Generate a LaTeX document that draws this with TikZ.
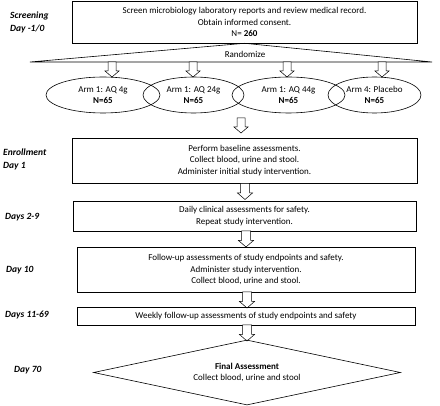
\documentclass[tikz,border=0pt]{standalone}
\usepackage{fontspec}
\setmainfont{Carlito}
\usetikzlibrary{shapes.geometric}
\tikzset{
  every node/.style={font=\fontsize{9}{11.5}\selectfont},
  stepbox/.style={draw, line width=0.6pt, align=center, inner sep=0pt},
  armell/.style={draw, ellipse, line width=0.6pt, align=center, inner sep=0pt, minimum height=36pt},
  daylabel/.style={anchor=west, align=left, inner sep=0pt, font=\fontsize{9.5}{13}\selectfont\bfseries\itshape},
  barrow/.pic={\draw[line width=0.5pt, fill=white] (-4.5,0) -- (4.5,0) -- (4.5,9.5) -- (7.5,9.5) -- (0,16) -- (-7.5,9.5) -- (-4.5,9.5) -- cycle;},
  sarrow/.pic={\draw[line width=0.5pt, fill=white] (-4,0) -- (4,0) -- (4,9) -- (7,9) -- (0,15) -- (-7,9) -- (-4,9) -- cycle;}
}
\begin{document}
\begin{tikzpicture}[x=1pt,y=-1pt]
\useasboundingbox (0,0) rectangle (440,406);
% left labels
\node[daylabel] (l1) at (10,22) {Screening\\Day -1/0};
\node[daylabel] (l2) at (3,159) {Enrollment\\Day 1};
\node[daylabel] (l3) at (5,217) {Days 2-9};
\node[daylabel] (l4) at (6,270) {Day 10};
\node[daylabel] (l5) at (5,315) {Days 11-69};
\node[daylabel] (l6) at (14,370) {Day 70};
% screening box
\node[stepbox, minimum width=345pt, minimum height=42pt] (scr) at (244.5,22) {Screen microbiology laboratory reports and review medical record.\\Obtain informed consent.\\N= \textbf{260}};
% randomize triangle
\coordinate (tl) at (30,62);
\coordinate (tr) at (432,62);
\draw[line width=0.6pt] (scr.south) -- (tl) -- (tr) -- cycle;
\node (rand) at (245,54) {Randomize};
% small arrows
\pic at (112,62) {sarrow};
\pic at (193,62) {sarrow};
\pic at (287,62) {sarrow};
\pic at (382,62) {sarrow};
% ellipses
\node[armell, minimum width=114pt] (e1) at (103,95) {Arm 1: AQ 4g\\\textbf{N=65}};
\node[armell, minimum width=101pt] (e2) at (193.5,95) {Arm 1: AQ 24g\\\textbf{N=65}};
\node[armell, minimum width=113pt] (e3) at (288.5,95) {Arm 1: AQ 44g\\\textbf{N=65}};
\node[armell, minimum width=93pt] (e4) at (374.5,95) {Arm 4: Placebo\\\textbf{N=65}};
\pic at (241,118) {sarrow};
% enrollment
\node[stepbox, minimum width=345pt, minimum height=45pt] (enr) at (244.5,160.5) {Perform baseline assessments.\\Collect blood, urine and stool.\\Administer initial study intervention.};
\pic at (245,183.5) {barrow};
\node[stepbox, minimum width=343pt, minimum height=30pt] (d29) at (244.5,216) {Daily clinical assessments for safety.\\Repeat study intervention.};
\pic at (246,231) {barrow};
\node[stepbox, minimum width=338pt, minimum height=45pt] (d10) at (246,269.5) {Follow-up assessments of study endpoints and safety.\\Administer study intervention.\\Collect blood, urine and stool.};
\pic at (247,292) {barrow};
\node[stepbox, minimum width=338pt, minimum height=18pt] (d11) at (246,316) {Weekly follow-up assessments of study endpoints and safety};
\pic at (247,325) {barrow};
\node[draw, diamond, aspect=4.65, line width=0.6pt, inner sep=0pt, minimum width=307pt, minimum height=65pt, align=center] (fin) at (247,372.5) {\textbf{Final Assessment}\\Collect blood, urine and stool};
\end{tikzpicture}
\end{document}
